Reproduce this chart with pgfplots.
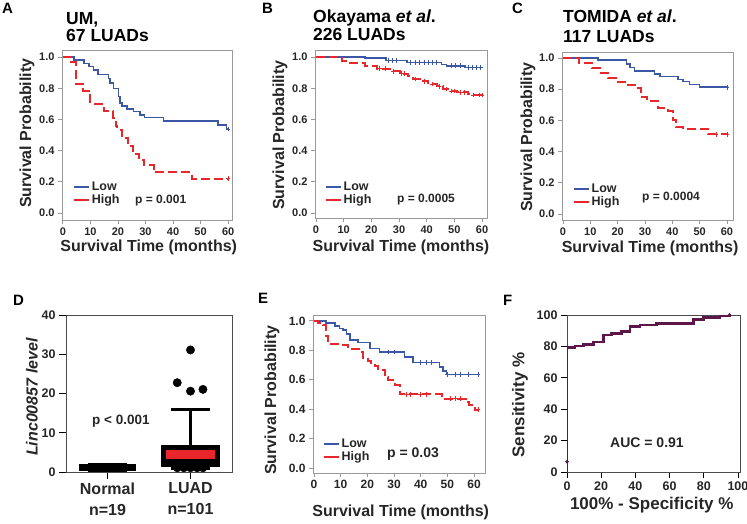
\documentclass[border=0pt]{standalone}
\usepackage{fontspec}
\setmainfont{Liberation Sans}
\usepackage{pgfplots}
\pgfplotsset{compat=1.18}
\usepgfplotslibrary{statistics}

\definecolor{kmblue}{HTML}{3B58A6}
\definecolor{kmred}{HTML}{E8262B}
\definecolor{rocpurple}{HTML}{5C1648}
\definecolor{framegray}{HTML}{9A9A9A}
\definecolor{txt}{HTML}{262626}

\newcommand{\sz}[1]{\fontsize{#1}{#1}\selectfont}

\pgfplotsset{
  base/.style={
    scale only axis, anchor=north west,
    axis line style={framegray, line width=0.8pt},
    tick style={framegray, line width=0.8pt},
    tick align=outside, major tick length=4pt,
    xtick pos=bottom, ytick pos=left,
    ticklabel style={font=\bfseries\sz{11}, text=txt},
    /pgf/number format/assume math mode=true,
    label style={font=\bfseries\sz{16}, text=txt},
  },
  km/.style={
    base,
    xtick={0,10,...,60}, ytick={0,0.2,...,1.0},
    yticklabel style={/pgf/number format/.cd, fixed, fixed zerofill, precision=1},
    ylabel={Survival Probability},
    xlabel={Survival Time (months)},
    legend style={draw=none, fill=none, font=\bfseries\sz{12.5}, text=txt,
      anchor=north west, inner sep=0pt, row sep=0pt, nodes={inner sep=1.5pt}},
    legend cell align=left,
    legend image code/.code={\draw[mark=none, dash pattern=on 15pt off 0pt] (0pt,0pt) -- (15pt,0pt);},
  },
  labpos/.style n args={4}{
    xlabel style={at={(axis description cs:#1,#2)}, anchor=center},
    ylabel style={at={(axis description cs:#3,#4)}, anchor=center}},
  low/.style={const plot, kmblue, line width=1.6pt, mark=none},
  high/.style={const plot, kmred, line width=2pt, dash pattern=on 9pt off 4pt, mark=none},
  cens/.style={only marks, mark=+, mark size=2.3pt, line width=0.7pt, forget plot},
}

\begin{document}
\begin{tikzpicture}
\path[use as bounding box] (0pt,0pt) rectangle (747pt,-523pt);

% ---------- A
\begin{axis}[km, at={(62pt,-50pt)}, width=170pt, height=170pt,
  xmin=-0.3, xmax=61.4, ymin=-0.045, ymax=1.045,
  labpos={0.51}{-0.159}{-0.206}{0.51},
  legend style={at={(0.065,0.235)}}]
\addplot[low] coordinates {(0,1) (4.0,0.981) (7.6,0.959) (9.6,0.938) (11.2,0.917) (12.8,0.889) (16.6,0.863) (17.2,0.835) (18.4,0.799) (20.2,0.746) (20.8,0.707) (21.4,0.686) (23.3,0.665) (25.7,0.650) (28.1,0.628) (29.6,0.611) (36.5,0.590) (56.4,0.564) (59.4,0.538) (60,0.538)};
\addlegendentry{Low}
\addplot[high] coordinates {(0,1) (3.1,0.97) (4.8,0.83) (7.5,0.78) (10.0,0.70) (14.8,0.655) (18.3,0.61) (19.2,0.555) (19.8,0.53) (21.5,0.48) (23.5,0.43) (25.5,0.38) (27.5,0.34) (29.5,0.305) (33,0.26) (46.8,0.22) (60,0.22)};
\addlegendentry{High}
\addplot[cens, kmblue] coordinates {(60,0.538)};
\addplot[cens, kmred] coordinates {(60,0.22)};
\end{axis}

% ---------- B
\begin{axis}[km, at={(315pt,-50pt)}, width=172pt, height=168pt,
  xmin=-0.36, xmax=61.8, ymin=-0.032, ymax=1.045,
  labpos={0.50}{-0.173}{-0.203}{0.494},
  legend style={at={(0.058,0.226)}}]
\addplot[low] coordinates {(0,1) (17.7,0.993) (25.3,0.978) (32.8,0.965) (45.4,0.953) (47.2,0.944) (53.9,0.932) (60,0.932)};
\addlegendentry{Low}
\addplot[high] coordinates {(0,1) (7.5,0.991) (9.3,0.974) (11,0.962) (17.7,0.944) (21.9,0.925) (26.7,0.908) (30.4,0.893) (33.4,0.876) (35,0.86) (37.6,0.845) (40.6,0.828) (43.6,0.812) (46,0.796) (48.4,0.781) (50.8,0.773) (55,0.765) (56.3,0.756) (60,0.756)};
\addlegendentry{High}
\addplot[cens, kmblue] coordinates {(26,0.978) (27.5,0.978) (29,0.978) (34,0.965) (36,0.965) (37.5,0.965) (39,0.965) (40.5,0.965) (42,0.965) (43.5,0.965) (49,0.944) (50.5,0.944) (52,0.944) (55,0.932) (56.5,0.932) (58,0.932) (59.5,0.932)};
\addplot[cens, kmred] coordinates {(23,0.925) (25,0.925) (28,0.908) (31,0.893) (32,0.893) (36,0.86) (39,0.845) (42,0.828) (44.5,0.812) (47,0.796) (49,0.781) (50,0.781) (52,0.773) (53.5,0.773) (57,0.756) (59,0.756) (60,0.756)};
\end{axis}

% ---------- C
\begin{axis}[km, at={(562pt,-52pt)}, width=171pt, height=168pt,
  xmin=-0.37, xmax=62.2, ymin=-0.038, ymax=1.038,
  labpos={0.515}{-0.167}{-0.199}{0.494},
  legend style={at={(0.064,0.226)}}]
\addplot[low] coordinates {(0,1) (12.8,0.985) (23.2,0.962) (24.4,0.94) (26.2,0.917) (33.5,0.897) (35.4,0.88) (42,0.863) (43.9,0.848) (46.3,0.831) (50,0.812) (60,0.812)};
\addlegendentry{Low}
\addplot[high] coordinates {(0,1) (5.7,0.97) (10.7,0.934) (14,0.906) (16.5,0.87) (19.5,0.848) (23.2,0.827) (26.8,0.806) (28.6,0.752) (30.8,0.726) (34.8,0.677) (38.5,0.66) (40.2,0.603) (41.5,0.56) (44,0.543) (53,0.511) (60,0.511)};
\addlegendentry{High}
\addplot[cens, kmblue] coordinates {(60,0.812)};
\addplot[cens, kmred] coordinates {(56,0.511) (60,0.511)};
\end{axis}

% ---------- D
\begin{axis}[base, at={(66pt,-315pt)}, width=166pt, height=157pt,
  axis line style={black!70, line width=0.8pt}, tick style={black, line width=0.8pt},
  major tick length=7pt,
  ticklabel style={font=\bfseries\sz{12.5}},
  xmin=0.5, xmax=2.5, ymin=0, ymax=40,
  xtick={1,2}, xticklabels={{Normal\\n=19},{LUAD\\n=101}},
  xticklabel style={align=center, font=\bfseries\fontsize{16}{21}\selectfont},
  ytick={0,10,...,40},
  ylabel={\textit{Linc00857 level}},
  ylabel style={at={(axis description cs:-0.205,0.478)}, anchor=center},
  boxplot/draw direction=y,
  boxplot/box extend=0.64, boxplot/whisker extend=0.46]
\addplot[boxplot prepared={draw position=1, lower whisker=0.5, lower quartile=0.8, median=1.2, upper quartile=1.6, upper whisker=2.0},
  boxplot/every box/.style={draw=black, fill=black, line width=4pt},
  boxplot/every whisker/.style={black, line width=3pt},
  boxplot/every median/.style={black, line width=3pt}] coordinates {};
\addplot[boxplot prepared={draw position=2, lower whisker=1.0, lower quartile=1.95, median=3.0, upper quartile=6.2, upper whisker=16},
  boxplot/every box/.style={draw=black, fill=kmred, line width=5pt},
  boxplot/every whisker/.style={black, line width=3pt},
  boxplot/every median/.style={black, line width=3pt}] coordinates {};
\addplot[only marks, mark=*, mark size=4.2pt, black] coordinates {(1.84,22.75) (2,31.1) (2,20.6) (2.15,21.05)};
\addplot[only marks, mark=*, mark size=3.9pt, black] coordinates {(1.84,1) (1.92,1) (2.0,1) (2.08,1) (2.15,1)};
\end{axis}

% ---------- E
\begin{axis}[km, at={(313pt,-315pt)}, width=172pt, height=158pt,
  xmin=-0.37, xmax=64.1, ymin=-0.034, ymax=1.04,
  labpos={0.51}{-0.247}{-0.238}{0.462},
  ticklabel style={font=\bfseries\sz{12}},
  legend style={at={(0.058,0.228)}}]
\addplot[low] coordinates {(0,1) (4.6,0.986) (7.8,0.966) (9.6,0.948) (10.9,0.937) (12.2,0.91) (13.4,0.87) (16.5,0.853) (20.9,0.812) (24.6,0.789) (34,0.755) (37,0.717) (47,0.687) (48.4,0.66) (49.6,0.635) (61.5,0.635)};
\addlegendentry{Low}
\addplot[high] coordinates {(0,1) (1.5,0.985) (3.4,0.97) (4.6,0.90) (5.3,0.846) (9.6,0.834) (12.8,0.807) (17.1,0.789) (18.4,0.75) (20.3,0.73) (21.5,0.70) (22.8,0.69) (24,0.664) (26.5,0.619) (27.8,0.596) (30.3,0.562) (32.1,0.506) (33.4,0.5) (47.8,0.472) (57,0.45) (58,0.43) (60.3,0.397) (61.5,0.397)};
\addlegendentry{High}
\addplot[cens, kmblue] coordinates {(28,0.789) (30,0.789) (40,0.717) (42,0.717) (44,0.717) (50,0.635) (53,0.635) (55,0.635) (58,0.635) (61.5,0.635)};
\addplot[cens, kmred] coordinates {(34.5,0.5) (36,0.5) (40,0.5) (42,0.5) (51,0.472) (53,0.472) (55,0.472) (61.5,0.397)};
\end{axis}

% ---------- F
\begin{axis}[base, at={(567pt,-315pt)}, width=173pt, height=157pt,
  axis line style={black!70, line width=0.8pt}, tick style={black, line width=0.8pt},
  major tick length=6pt,
  ticklabel style={font=\bfseries\sz{12.5}},
  xmin=0, xmax=101.2, ymin=0, ymax=100,
  xtick={0,20,...,100}, ytick={0,20,...,100},
  xlabel={100\% - Specificity \%}, ylabel={Sensitivity \%},
  label style={font=\bfseries\sz{17}},
  labpos={0.49}{-0.21}{-0.272}{0.427}]
\addplot[const plot, rocpurple, line width=2.7pt, mark=none] coordinates {(0,0) (0,79.4) (4.7,80.3) (9.6,81.3) (15.4,82.8) (21.2,87.3) (26.1,88.3) (32,89.4) (36.8,92.6) (42.7,93.6) (52.4,94.7) (73.9,97.2) (79.7,98.5) (89.5,99.3) (95,100)};
\addplot[only marks, mark=*, mark size=1.6pt, rocpurple] coordinates {(0,6.6) (95,100)};
\end{axis}

% ---------- titles, panel letters, annotations
\begin{scope}[every node/.style={anchor=base west, inner sep=0pt, text=black}]
\node[font=\bfseries\sz{15}] at (2pt,-13pt) {A};
\node[font=\bfseries\sz{15}] at (262pt,-13pt) {B};
\node[font=\bfseries\sz{15}] at (512pt,-13pt) {C};
\node[font=\bfseries\sz{15}] at (13pt,-305pt) {D};
\node[font=\bfseries\sz{15}] at (258pt,-303pt) {E};
\node[font=\bfseries\sz{15}] at (503pt,-305pt) {F};
\node[font=\bfseries\sz{17.5}] at (66pt,-24pt) {UM,};
\node[font=\bfseries\sz{17.5}] at (66pt,-41pt) {67 LUADs};
\node[font=\bfseries\sz{17.5}] at (313pt,-22pt) {Okayama \textit{et al}.};
\node[font=\bfseries\sz{17.5}] at (313pt,-40pt) {226 LUADs};
\node[font=\bfseries\sz{17.5}] at (563pt,-22pt) {TOMIDA \textit{et al}.};
\node[font=\bfseries\sz{17.5}] at (563pt,-42pt) {117 LUADs};
\node[font=\bfseries\sz{12}, text=txt] at (135pt,-203pt) {p = 0.001};
\node[font=\bfseries\sz{12}, text=txt] at (397pt,-202pt) {p = 0.0005};
\node[font=\bfseries\sz{12}, text=txt] at (642pt,-200pt) {p = 0.0004};
\node[font=\bfseries\sz{13.5}, text=txt] at (92pt,-424pt) {p < 0.001};
\node[font=\bfseries\sz{14}, text=txt] at (387pt,-457pt) {p = 0.03};
\node[font=\bfseries\sz{14}, text=txt] at (610pt,-447pt) {AUC = 0.91};
\end{scope}
\end{tikzpicture}
\end{document}
